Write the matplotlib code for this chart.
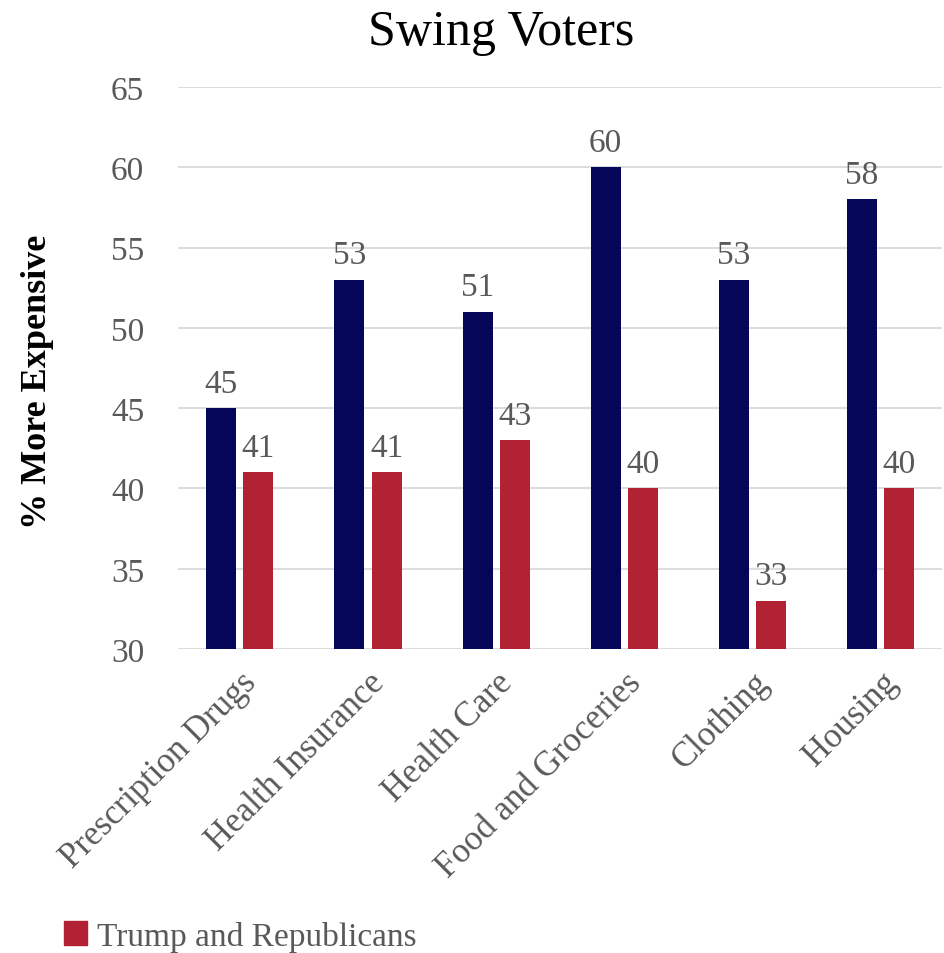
import numpy as np
import matplotlib
matplotlib.use("Agg")
from matplotlib import pyplot as plt
import matplotlib.patches as mpatches

categories = ["Prescription Drugs", "Health Insurance", "Health Care",
              "Food and Groceries", "Clothing", "Housing"]
swing_blue = [45, 53, 51, 60, 53, 58]
trump_red = [41, 41, 43, 40, 33, 40]
y_ticks = [30, 35, 40, 45, 50, 55, 60, 65]

navy = "#05055A"
red = "#B22234"
gray = "#595959"

plt.rcParams["font.family"] = ["Liberation Serif", "DejaVu Serif"]

fig = plt.figure(figsize=(9.45, 9.54), dpi=100)
ax = fig.add_axes([0.188, 0.3186, 0.809, 0.5892])

x = np.arange(len(categories))
w = 0.235
off = 0.145
b1 = ax.bar(x - off, swing_blue, w, color=navy, zorder=3)
b2 = ax.bar(x + off, trump_red, w, color=red, zorder=3)

# value labels over each bar
for bars, vals in ((b1, swing_blue), (b2, trump_red)):
    for rect, v in zip(bars, vals):
        ax.text(rect.get_x() + rect.get_width() / 2, v + 0.6, str(v),
                ha="center", va="bottom", fontsize=24, color=gray)

ax.set_ylim(30, 65)
ax.set_xlim(-0.485, 5.48)
ax.set_yticks(y_ticks)
ax.set_yticklabels([str(t) for t in y_ticks], fontsize=24, color=gray)
ax.set_xticks(x)
ax.set_xticklabels(categories, rotation=45, ha="right", rotation_mode="anchor",
                   fontsize=25, color=gray)
ax.tick_params(axis="y", length=0, pad=24)
ax.tick_params(axis="x", length=0, pad=12)
ax.grid(axis="y", color="#D9D9D9", linewidth=1.3, zorder=0)
for s in ax.spines.values():
    s.set_visible(False)

fig.text(0.04, 0.6, "% More Expensive", fontsize=26, fontweight="bold",
         rotation=90, ha="center", va="center")
fig.text(0.53, 0.966, "Swing Voters", fontsize=36, ha="center", va="center")

red_patch = mpatches.Patch(color=red, label="Trump and Republicans")
fig.legend(handles=[red_patch], loc="lower left", bbox_to_anchor=(0.036, -0.03),
           frameon=False, fontsize=24, handlelength=0.7, handleheight=0.7,
           handletextpad=0.3, labelcolor=gray)

fig.savefig("out.png", dpi=100)
